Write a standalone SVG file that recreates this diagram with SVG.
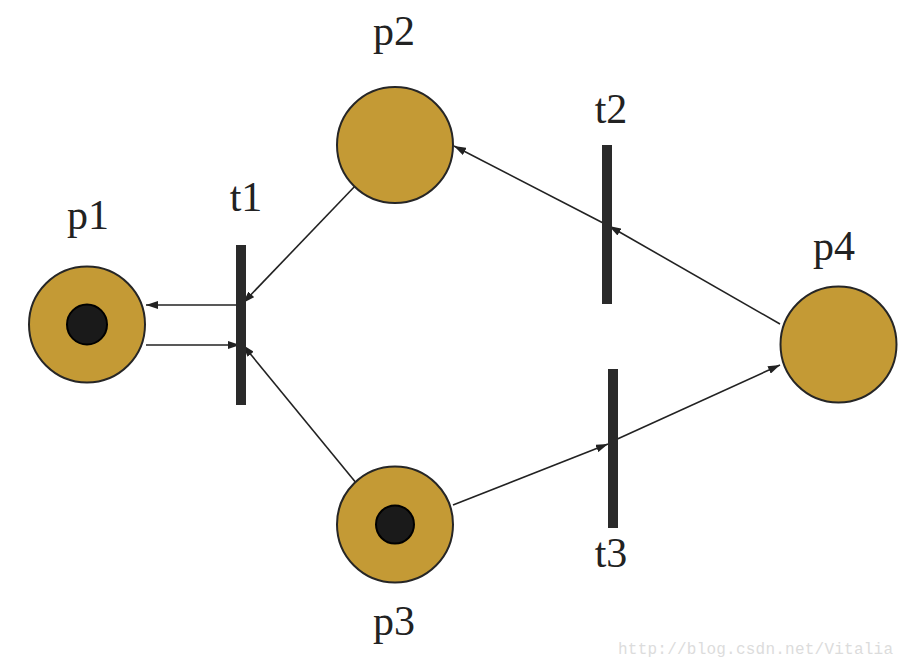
<svg xmlns="http://www.w3.org/2000/svg" width="908" height="666" viewBox="0 0 908 666">
<style>
.place{fill:#C49A35;stroke:#262626;stroke-width:2}
.token{fill:#1a1a1a;stroke:#000;stroke-width:2}
.bar{fill:#2a2a2a}
.lbl{font-family:"Liberation Serif","Times New Roman",serif;font-size:42px;fill:#222;text-anchor:middle}
.arc{stroke:#222;stroke-width:1.6;fill:none;marker-end:url(#ah)}
.wm{font-family:"Liberation Mono","Courier New",monospace;font-size:16px;fill:#dcdcdc}
</style>
<defs>
<marker id="ah" viewBox="0 0 12 8" refX="12" refY="4" markerWidth="12" markerHeight="8" markerUnits="userSpaceOnUse" orient="auto">
<path d="M0,0 L12,4 L0,8 Z" fill="#222"/>
</marker>
</defs>
<rect width="908" height="666" fill="#fff"/>
<g id="connectors">
<line class="arc" x1="236" y1="305" x2="146" y2="305"/>
<line class="arc" x1="146" y1="345" x2="240" y2="345"/>
<line class="arc" x1="357" y1="184" x2="243" y2="303"/>
<line class="arc" x1="357" y1="484" x2="243" y2="345"/>
<line class="arc" x1="607" y1="225" x2="454" y2="146"/>
<line class="arc" x1="780" y1="324" x2="609" y2="226"/>
<line class="arc" x1="453" y1="505" x2="608" y2="444"/>
<line class="arc" x1="613" y1="441" x2="780" y2="365"/>
</g>
<g id="p1"><circle class="place" cx="87" cy="324.5" r="58"/><circle class="token" cx="87" cy="324.5" r="20"/><text class="lbl" x="88" y="229">p1</text></g>
<g id="p2"><circle class="place" cx="395" cy="145" r="58"/><text class="lbl" x="394" y="45">p2</text></g>
<g id="p3"><circle class="place" cx="395" cy="524.5" r="58"/><circle class="token" cx="395" cy="524.5" r="19"/><text class="lbl" x="394" y="635">p3</text></g>
<g id="p4"><circle class="place" cx="838.5" cy="344.5" r="58"/><text class="lbl" x="834" y="260">p4</text></g>
<g id="t1"><rect class="bar" x="236" y="245" width="10" height="160"/><text class="lbl" x="246" y="211">t1</text></g>
<g id="t2"><rect class="bar" x="602" y="145" width="10" height="159"/><text class="lbl" x="611" y="123">t2</text></g>
<g id="t3"><rect class="bar" x="608" y="369" width="10" height="159"/><text class="lbl" x="611" y="567">t3</text></g>
<text class="wm" x="618" y="654" textLength="275">http://blog.csdn.net/Vitalia</text>
</svg>
